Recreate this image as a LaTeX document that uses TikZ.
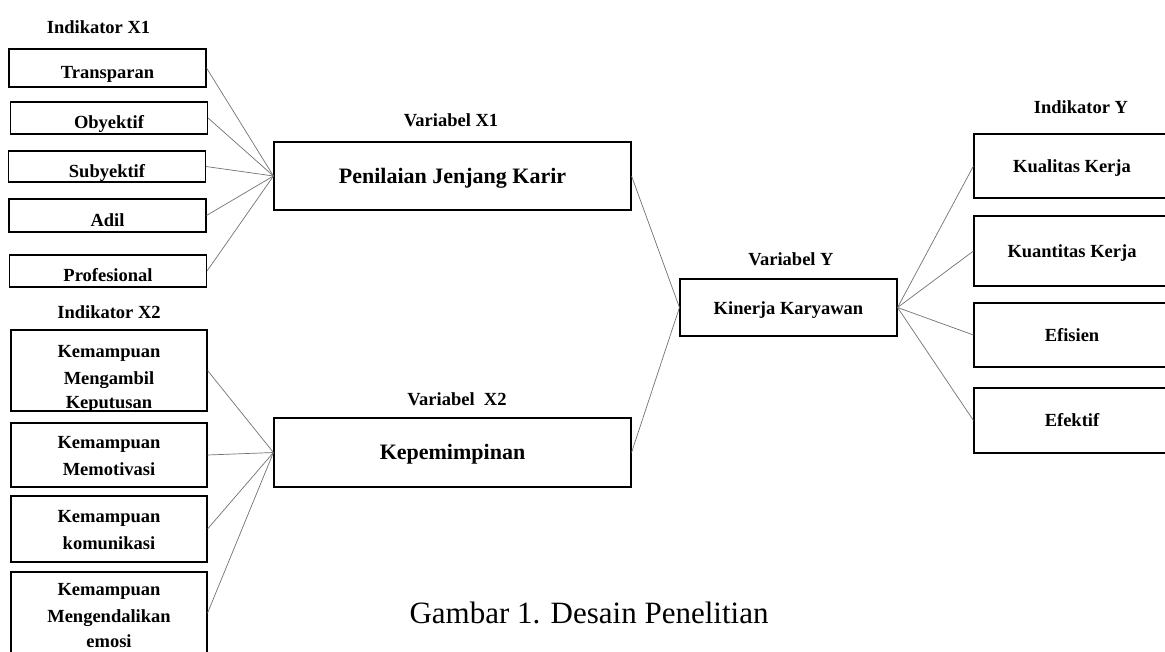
\documentclass[tikz,border=0pt]{standalone}
\usepackage{fontspec}
\setmainfont{Liberation Serif}
\begin{document}
\begin{tikzpicture}[x=1pt, y=-1pt,
  ind/.style={draw, line width=1.1pt, minimum width=197pt, inner sep=0pt, font=\bfseries\fontsize{18.5}{27}\selectfont},
  indx/.style={ind, text height=21pt, text depth=0pt},
  indk/.style={ind, align=center, text depth=0pt},
  indy/.style={ind, text height=13pt, text depth=1pt},
  var/.style={draw, line width=1.1pt, inner sep=0pt, text height=15pt, text depth=1pt, font=\bfseries\fontsize{22}{26}\selectfont},
  judul/.style={anchor=base, font=\bfseries\fontsize{18.5}{22}\selectfont},
  garis/.style={draw=black!55, line width=0.7pt}]
\useasboundingbox[fill=white] (0,0) rectangle (1165,651);
% indikator X1
\node[judul] (jx1) at (98.5,33) {Indikator X1};
\node[indx, minimum height=38pt] (tr) at (107.5,68) {Transparan};
\node[indx, minimum height=32pt] (ob) at (109,118) {Obyektif};
\node[indx, minimum height=31pt] (sub) at (107,166.5) {Subyektif};
\node[indx, minimum height=33pt] (adil) at (107.5,215.5) {Adil};
\node[indx, minimum height=32pt] (prof) at (108,271) {Profesional};
% indikator X2
\node[judul] (jx2) at (109,318) {Indikator X2};
\node[indk, minimum width=196pt, minimum height=81pt, text height=75pt] (k1) at (109,370.5) {Kemampuan\\ Mengambil\\[-3pt] Keputusan};
\node[indk, minimum width=196pt, minimum height=64pt, text height=40pt] (k2) at (109,455) {Kemampuan\\ Memotivasi};
\node[indk, minimum width=196pt, minimum height=66pt, text height=40pt] (k3) at (109,529) {Kemampuan\\ komunikasi};
\node[indk, minimum width=196pt, minimum height=82pt, text height=68pt] (k4) at (109,613) {Kemampuan\\ Mengendalikan\\[-2pt] emosi};
% variabel
\node[judul] (jv1) at (451,126) {Variabel X1};
\node[var, minimum width=357pt, minimum height=68pt] (pen) at (452.5,176) {Penilaian Jenjang Karir};
\node[judul] (jv2) at (457,405) {Variabel~ X2};
\node[var, minimum width=357pt, minimum height=69pt] (kep) at (452.5,452.5) {Kepemimpinan};
\node[judul] (jvy) at (791,265) {Variabel Y};
\node[var, minimum width=217pt, minimum height=57pt, font=\bfseries\fontsize{18.5}{22}\selectfont] (kin) at (788.5,307.5) {Kinerja Karyawan};
% indikator Y
\node[judul] (jy) at (1081,113) {Indikator Y};
\node[indy, minimum width=196pt, minimum height=64pt] (kual) at (1072,166) {Kualitas Kerja};
\node[indy, minimum width=196pt, minimum height=70pt] (kuan) at (1072,251) {Kuantitas Kerja};
\node[indy, minimum width=196pt, minimum height=64pt] (efi) at (1072,335) {Efisien};
\node[indy, minimum width=196pt, minimum height=65pt] (efe) at (1072,420.5) {Efektif};
% garis
\foreach \i in {tr,ob,sub,adil,prof}
  \draw[garis] (\i.east) -- (pen.west);
\foreach \i in {k1,k2,k3,k4}
  \draw[garis] (\i.east) -- (kep.west);
\draw[garis] (pen.east) -- (kin.west);
\draw[garis] (kep.east) -- (kin.west);
\foreach \i in {kual,kuan,efi,efe}
  \draw[garis] (kin.east) -- (\i.west);
\node[anchor=base, font=\fontsize{31}{36}\selectfont] (cap) at (589,623) {Gambar 1. Desain Penelitian};
\end{tikzpicture}
\end{document}
